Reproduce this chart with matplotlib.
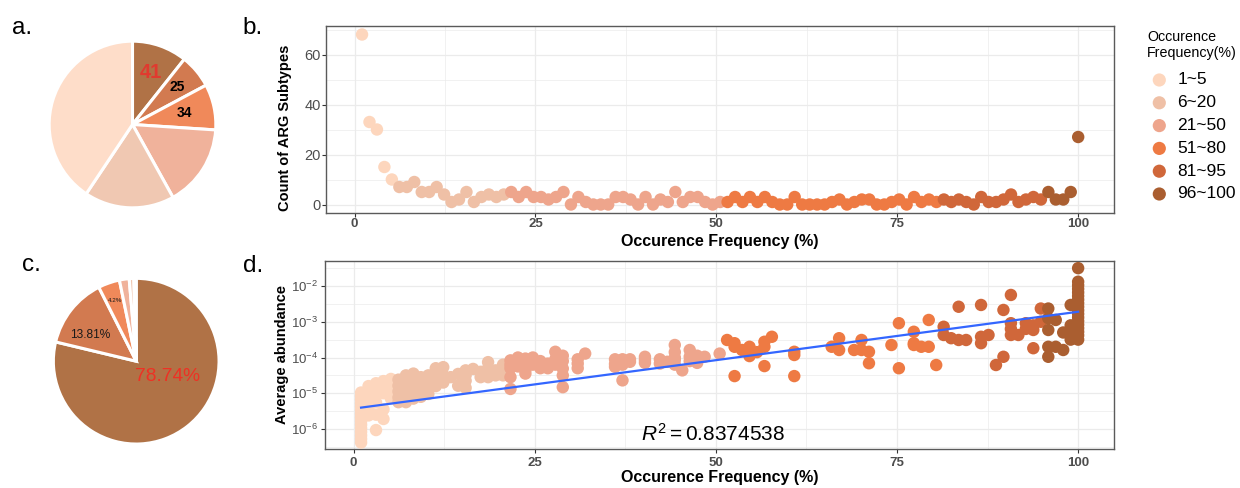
import matplotlib
matplotlib.use('Agg')
import matplotlib.pyplot as plt
import numpy as np

plt.rcParams['font.family'] = ['Liberation Sans', 'DejaVu Sans']
plt.rcParams['mathtext.fontset'] = 'custom'
plt.rcParams['mathtext.rm'] = 'Liberation Sans'
plt.rcParams['mathtext.it'] = 'Liberation Sans:italic'
plt.rcParams['mathtext.bf'] = 'Liberation Sans:bold'

# ---------------- data ----------------
groups = ['1~5', '6~20', '21~50', '51~80', '81~95', '96~100']
point_colors = ['#FDD6BD', '#EFC0A6', '#EEA58C', '#EE7A43', '#D0673A', '#AA5E30']
pie_colors = ['#FEDDC9', '#F0C8B2', '#F0B29B', '#F0895A', '#D27A50', '#B07246']

# panel a: number of ARG subtypes per frequency class
subtype_counts = [156, 67, 61, 34, 25, 41]
# panel c: share of abundance (%) per frequency class
abund_share = [0.45, 0.9, 1.9, 4.2, 13.81, 78.74]

# panel b: count of ARG subtypes at each occurrence frequency
freq_b1 = [1.03, 2.06, 3.09, 4.12, 5.15]
count_b1 = [68, 33, 30, 15, 10]
freq_b2 = [6.19, 7.22, 8.25, 9.28, 10.31, 11.34, 12.37, 13.40, 14.43, 15.46, 16.49, 17.53, 18.56, 19.59, 20.62]
count_b2 = [7, 7, 9, 5, 5, 7, 4, 1, 2, 5, 1, 3, 4, 3, 4]
freq_b3 = [21.65, 22.68, 23.71, 24.74, 25.77, 26.80, 27.84, 28.87, 29.90, 30.93, 31.96, 32.99, 34.02, 35.05,
           36.08, 37.11, 38.14, 39.18, 40.21, 41.24, 42.27, 43.30, 44.33, 45.36, 46.39, 47.42, 48.45, 49.48, 50.52]
count_b3 = [5, 3, 5, 3, 3, 2, 3, 5, 0, 3, 1, 0, 0, 0, 3, 3, 2, 0, 3, 0, 2, 1, 5, 1, 3, 3, 1, 0, 1]
freq_b4 = [51.55, 52.58, 53.61, 54.64, 55.67, 56.70, 57.73, 58.76, 59.79, 60.82, 61.86, 62.89, 63.92, 64.95,
           65.98, 67.01, 68.04, 69.07, 70.10, 71.13, 72.16, 73.20, 74.23, 75.26, 76.29, 77.32, 78.35, 79.38, 80.41]
count_b4 = [1, 3, 1, 3, 1, 3, 1, 0, 0, 3, 0, 0, 0, 0, 1, 2, 0, 1, 2, 2, 0, 0, 1, 2, 0, 3, 1, 2, 1]
freq_b5 = [81.44, 82.47, 83.51, 84.54, 85.57, 86.60, 87.63, 88.66, 89.69, 90.72, 91.75, 92.78, 93.81, 94.85]
count_b5 = [2, 1, 2, 1, 0, 3, 1, 1, 2, 4, 1, 2, 3, 2]
freq_b6 = [95.88, 96.91, 97.94, 98.97, 100.0]
count_b6 = [5, 2, 2, 5, 27]

# panel d: average abundance (log10) of each ARG subtype vs occurrence frequency
freq_d1 = [1.03, 1.03, 1.03, 1.03, 1.03, 1.03, 1.03, 1.03, 1.03, 1.03, 1.03, 1.03, 1.03, 1.03, 1.03,
           2.06, 2.06, 2.06, 2.06, 2.06, 2.06, 2.06,
           3.09, 3.09, 3.09, 3.09, 3.09, 3.09,
           4.12, 4.12, 4.12, 4.12, 4.12,
           5.15, 5.15, 5.15, 5.15]
logab_d1 = [-4.98, -5.08, -5.18, -5.28, -5.38, -5.48, -5.58, -5.68, -5.78, -5.88, -5.98, -6.08, -6.18, -6.28, -6.38,
            -4.80, -4.92, -5.05, -5.18, -5.30, -5.45, -5.62,
            -4.72, -4.88, -5.02, -5.25, -5.60, -6.03,
            -4.66, -4.82, -5.00, -5.45, -5.72,
            -4.60, -4.74, -4.92, -5.15]
freq_d2 = [6.19, 6.19, 6.19, 6.19, 6.19,
           7.22, 7.22, 7.22, 7.22, 7.22, 7.22,
           8.25, 8.25, 8.25, 8.25, 8.25, 8.25,
           9.28, 9.28, 9.28, 9.28, 9.28,
           10.31, 10.31, 10.31, 10.31,
           11.34, 11.34, 11.34, 11.34,
           12.37, 12.37, 12.37,
           13.40,
           14.43, 14.43,
           15.46, 15.46, 15.46, 15.46,
           16.49,
           17.53, 17.53,
           18.56, 18.56, 18.56,
           19.59, 19.59,
           20.62, 20.62, 20.62]
logab_d2 = [-4.62, -4.79, -4.95, -5.12, -5.25,
            -4.50, -4.60, -4.75, -4.90, -5.05, -5.25,
            -4.45, -4.55, -4.68, -4.85, -5.00, -5.15,
            -4.55, -4.64, -4.80, -4.95, -5.10,
            -4.50, -4.62, -4.88, -5.02,
            -4.30, -4.48, -4.65, -4.80,
            -4.27, -4.50, -4.70,
            -4.55,
            -4.46, -4.79,
            -4.36, -4.50, -4.65, -4.85,
            -4.32,
            -4.40, -4.55,
            -4.13, -4.30, -4.55,
            -4.36, -4.50,
            -4.20, -4.36, -4.50]
freq_d3 = [21.65, 21.65, 21.65, 21.65, 21.65,
           22.68, 22.68, 22.68,
           23.71, 23.71, 23.71, 23.71, 23.71,
           24.74, 24.74, 24.74,
           25.77, 25.77, 25.77,
           26.80, 26.80,
           27.84, 27.84, 27.84,
           28.87, 28.87, 28.87, 28.87, 28.87,
           30.93, 30.93, 30.93,
           31.96,
           36.08, 36.08, 36.08,
           37.11, 37.11, 37.11,
           38.14, 38.14,
           40.21, 40.21, 40.21,
           42.27, 42.27,
           43.30,
           44.33, 44.33, 44.33, 44.33, 44.33,
           45.36,
           46.39, 46.39, 46.39,
           47.42, 47.42, 47.42,
           48.45,
           50.52]
logab_d3 = [-4.08, -4.20, -4.30, -4.55, -4.88,
            -4.00, -4.10, -4.25,
            -4.03, -4.12, -4.22, -4.35, -4.45,
            -4.00, -4.08, -4.20,
            -4.10, -4.17, -4.30,
            -4.17, -4.30,
            -3.84, -4.05, -4.20,
            -3.95, -4.10, -4.31, -4.50, -4.83,
            -4.05, -4.17, -4.30,
            -3.89,
            -4.05, -4.18, -4.26,
            -4.05, -4.20, -4.64,
            -4.05, -4.12,
            -3.98, -4.07, -4.15,
            -4.05, -4.17,
            -4.12,
            -3.65, -3.85, -4.00, -4.07, -4.20,
            -4.36,
            -3.79, -3.98, -4.10,
            -3.95, -4.05, -4.15,
            -3.98,
            -3.89]
freq_d4 = [51.55,
           52.58, 52.58, 52.58,
           53.61,
           54.64, 54.64, 54.64,
           55.67,
           56.70, 56.70, 56.70,
           57.73,
           60.82, 60.82, 60.82,
           65.98,
           67.01, 67.01,
           69.07,
           70.10, 70.10,
           71.13, 71.13,
           74.23,
           75.26, 75.26,
           77.32, 77.32, 77.32,
           78.35,
           79.38, 79.38,
           80.41]
logab_d4 = [-3.51,
            -3.60, -3.70, -4.52,
            -3.79,
            -3.70, -3.79, -3.96,
            -3.85,
            -3.56, -3.70, -4.24,
            -3.42,
            -3.84, -3.93, -4.52,
            -3.70,
            -3.46, -3.79,
            -3.79,
            -3.51, -3.79,
            -3.84, -4.16,
            -3.65,
            -3.04, -4.30,
            -3.28, -3.60, -3.65,
            -3.70,
            -2.95, -3.70,
            -4.21]
freq_d5 = [81.44, 81.44,
           82.47,
           83.51, 83.51,
           84.54,
           86.60, 86.60, 86.60,
           87.63,
           88.66,
           89.69, 89.69,
           90.72, 90.72, 90.72, 90.72,
           91.75,
           92.78, 92.78,
           93.81, 93.81, 93.81,
           94.85, 94.85]
logab_d5 = [-3.14, -3.37,
            -3.46,
            -2.58, -3.51,
            -3.51,
            -2.53, -3.42, -3.60,
            -3.37,
            -4.21,
            -2.67, -3.98,
            -2.25, -3.04, -3.20, -3.37,
            -3.37,
            -3.04, -3.20,
            -3.10, -3.23, -3.74,
            -2.63, -3.00]
freq_d6 = [95.88, 95.88, 95.88, 95.88, 95.88,
           96.91, 96.91,
           97.94, 97.94,
           98.97, 98.97, 98.97, 98.97, 98.97,
           100.0, 100.0, 100.0, 100.0, 100.0, 100.0, 100.0, 100.0, 100.0,
           100.0, 100.0, 100.0, 100.0, 100.0, 100.0, 100.0, 100.0, 100.0]
logab_d6 = [-2.63, -2.90, -3.23, -3.70, -3.98,
            -2.95, -3.70,
            -3.30, -3.79,
            -2.53, -3.10, -3.28, -3.40, -3.50,
            -1.50, -1.88, -1.98, -2.08, -2.18, -2.28, -2.38, -2.48, -2.58,
            -2.68, -2.78, -2.88, -2.98, -3.08, -3.18, -3.28, -3.38, -3.50]

# linear fit of log10(abundance) on frequency
fit_intercept = -5.43
fit_slope = 0.0271
r_squared = 0.8374538

freq_b = [freq_b1, freq_b2, freq_b3, freq_b4, freq_b5, freq_b6]
count_b = [count_b1, count_b2, count_b3, count_b4, count_b5, count_b6]
freq_d = [freq_d1, freq_d2, freq_d3, freq_d4, freq_d5, freq_d6]
logab_d = [logab_d1, logab_d2, logab_d3, logab_d4, logab_d5, logab_d6]

# ---------------- figure ----------------
W, H = 1240, 488
fig = plt.figure(figsize=(W / 100, H / 100), dpi=100)


def px_axes(left, top, width, height, **kw):
    return fig.add_axes([left / W, (H - top - height) / H, width / W, height / H], **kw)


TICK_C = '#4D4D4D'
GRID_C = '#EBEBEB'
SPINE_C = '#5A5A5A'
PT_SIZE = 80


def style_panel(ax, xpad, ypad):
    for s in ax.spines.values():
        s.set_color(SPINE_C)
        s.set_linewidth(1.0)
    ax.grid(which='major', color=GRID_C, lw=0.9, zorder=0)
    ax.grid(which='minor', color=GRID_C, lw=0.5, zorder=0)
    ax.set_axisbelow(True)
    ax.tick_params(which='major', direction='out', length=2.8, width=0.8, color='#333333', labelcolor=TICK_C)
    ax.tick_params(axis='x', which='major', pad=xpad)
    ax.tick_params(axis='y', which='major', pad=ypad)
    ax.tick_params(which='minor', length=0)


# ---- panel a pie ----
axa = px_axes(47.5, 39.5, 170, 170)
wa, _ = axa.pie(subtype_counts[::-1], colors=pie_colors[::-1], startangle=90, counterclock=False,
                wedgeprops=dict(edgecolor='white', linewidth=2.2), radius=1)
axa.set_xlim(-1.02, 1.02)
axa.set_ylim(-1.02, 1.02)
axa.set_aspect('equal')
label_specs = {0: ('#E03A2F', 14.5, 0.66), 1: ('black', 10, 0.70), 2: ('black', 10, 0.64)}
for i, (col, fs, r) in label_specs.items():
    w = wa[i]
    ang = np.deg2rad((w.theta1 + w.theta2) / 2)
    axa.text(r * np.cos(ang), r * np.sin(ang), str(subtype_counts[::-1][i]), color=col,
             fontsize=fs, fontweight='bold', ha='center', va='center')

# ---- panel c pie ----
axc = px_axes(51.7, 276.7, 169, 169)
wc, _ = axc.pie(abund_share[::-1], colors=pie_colors[::-1], startangle=90, counterclock=False,
                wedgeprops=dict(edgecolor='white', linewidth=2.2), radius=1)
axc.set_xlim(-1.02, 1.02)
axc.set_ylim(-1.02, 1.02)
axc.set_aspect('equal')
axc.text(0.38, -0.18, f'{abund_share[5]:.2f}%', color='#EE3124', fontsize=13.8, ha='center', va='center')
axc.text(-0.56, 0.32, f'{abund_share[4]:.2f}%', color='#1a1a1a', fontsize=8.6, ha='center', va='center')
axc.text(-0.26, 0.73, f'{abund_share[3]:.1f}%', color='#1a1a1a', fontsize=4.5, ha='center', va='center')

# ---- panel b ----
axb = px_axes(326, 26, 788, 187)
for g in range(6):
    axb.scatter(freq_b[g], count_b[g], s=PT_SIZE, color=point_colors[g], edgecolors='none', zorder=3)
axb.set_xlim(-3.95, 104.95)
axb.set_ylim(-3.4, 71.4)
axb.set_xticks([0, 25, 50, 75, 100])
axb.set_xticks([12.5, 37.5, 62.5, 87.5], minor=True)
axb.set_yticks([0, 20, 40, 60])
axb.set_yticks([10, 30, 50, 70], minor=True)
style_panel(axb, xpad=0.6, ypad=1.0)
for t in axb.get_xticklabels():
    t.set_fontweight('bold')
    t.set_fontsize(9.5)
for t in axb.get_yticklabels():
    t.set_fontsize(10.5)
axb.set_xlabel('Occurence Frequency (%)', fontsize=11.5, fontweight='bold', va='baseline')
axb.xaxis.set_label_coords(0.5, -0.179)
axb.set_ylabel('Count of ARG Subtypes', fontsize=10.5, fontweight='bold', va='center')
axb.yaxis.set_label_coords(-0.052, 0.457)

# ---- panel d ----
axd = px_axes(325, 261, 789, 188)
for g in range(6):
    axd.scatter(freq_d[g], 10 ** np.array(logab_d[g]), s=PT_SIZE, color=point_colors[g],
                edgecolors='none', zorder=3)
xfit = np.array([freq_b1[0], freq_b6[-1]])
axd.plot(xfit, 10 ** (fit_intercept + fit_slope * xfit), color='#3366FF', lw=1.6, zorder=4)
axd.set_yscale('log')
axd.set_xlim(-3.95, 104.95)
axd.set_ylim(10 ** -6.56, 10 ** -1.30)
axd.set_xticks([0, 25, 50, 75, 100])
axd.set_xticks([12.5, 37.5, 62.5, 87.5], minor=True)
axd.set_yticks([1e-6, 1e-5, 1e-4, 1e-3, 1e-2])
axd.set_yticklabels([r'$10^{-6}$', r'$10^{-5}$', r'$10^{-4}$', r'$10^{-3}$', r'$10^{-2}$'])
axd.set_yticks([10 ** -6.5, 10 ** -5.5, 10 ** -4.5, 10 ** -3.5, 10 ** -2.5, 10 ** -1.5], minor=True)
axd.yaxis.set_minor_formatter(plt.NullFormatter())
style_panel(axd, xpad=2.6, ypad=2.2)
for t in axd.get_xticklabels():
    t.set_fontweight('bold')
    t.set_fontsize(9.5)
for t in axd.get_yticklabels():
    t.set_fontsize(9.5)
axd.set_xlabel('Occurence Frequency (%)', fontsize=11.5, fontweight='bold', va='baseline')
axd.xaxis.set_label_coords(0.5, -0.1755)
axd.set_ylabel('Average abundance', fontsize=10.5, fontweight='bold', va='center')
axd.yaxis.set_label_coords(-0.055, 0.505)
axd.text(0.492, 0.044, r'$R^2 = %s$' % r_squared, transform=axd.transAxes, fontsize=15,
         ha='center', va='baseline', color='black')

# ---- overlay: panel letters and legend ----
ov = fig.add_axes([0, 0, 1, 1], zorder=10)
ov.set_xlim(0, W)
ov.set_ylim(H, 0)
ov.axis('off')
ov.patch.set_alpha(0)
for letter, x, y in [('a.', 12, 34), ('b.', 242, 34), ('c.', 22, 271), ('d.', 243, 272)]:
    ov.text(x, y, letter, fontsize=17.5, ha='left', va='baseline', color='black')

ov.text(1147, 30, 'Occurence\nFrequency(%)', fontsize=10.3, ha='left', va='top', linespacing=1.15)
for i, (lab, col) in enumerate(zip(groups, point_colors)):
    y = 80 + 22.8 * i
    ov.scatter([1159.3], [y], s=PT_SIZE + 10, color=col, edgecolors='none')
    ov.text(1177.5, y, lab, fontsize=12.5, ha='left', va='center')

fig.savefig('out.png', dpi=100)
